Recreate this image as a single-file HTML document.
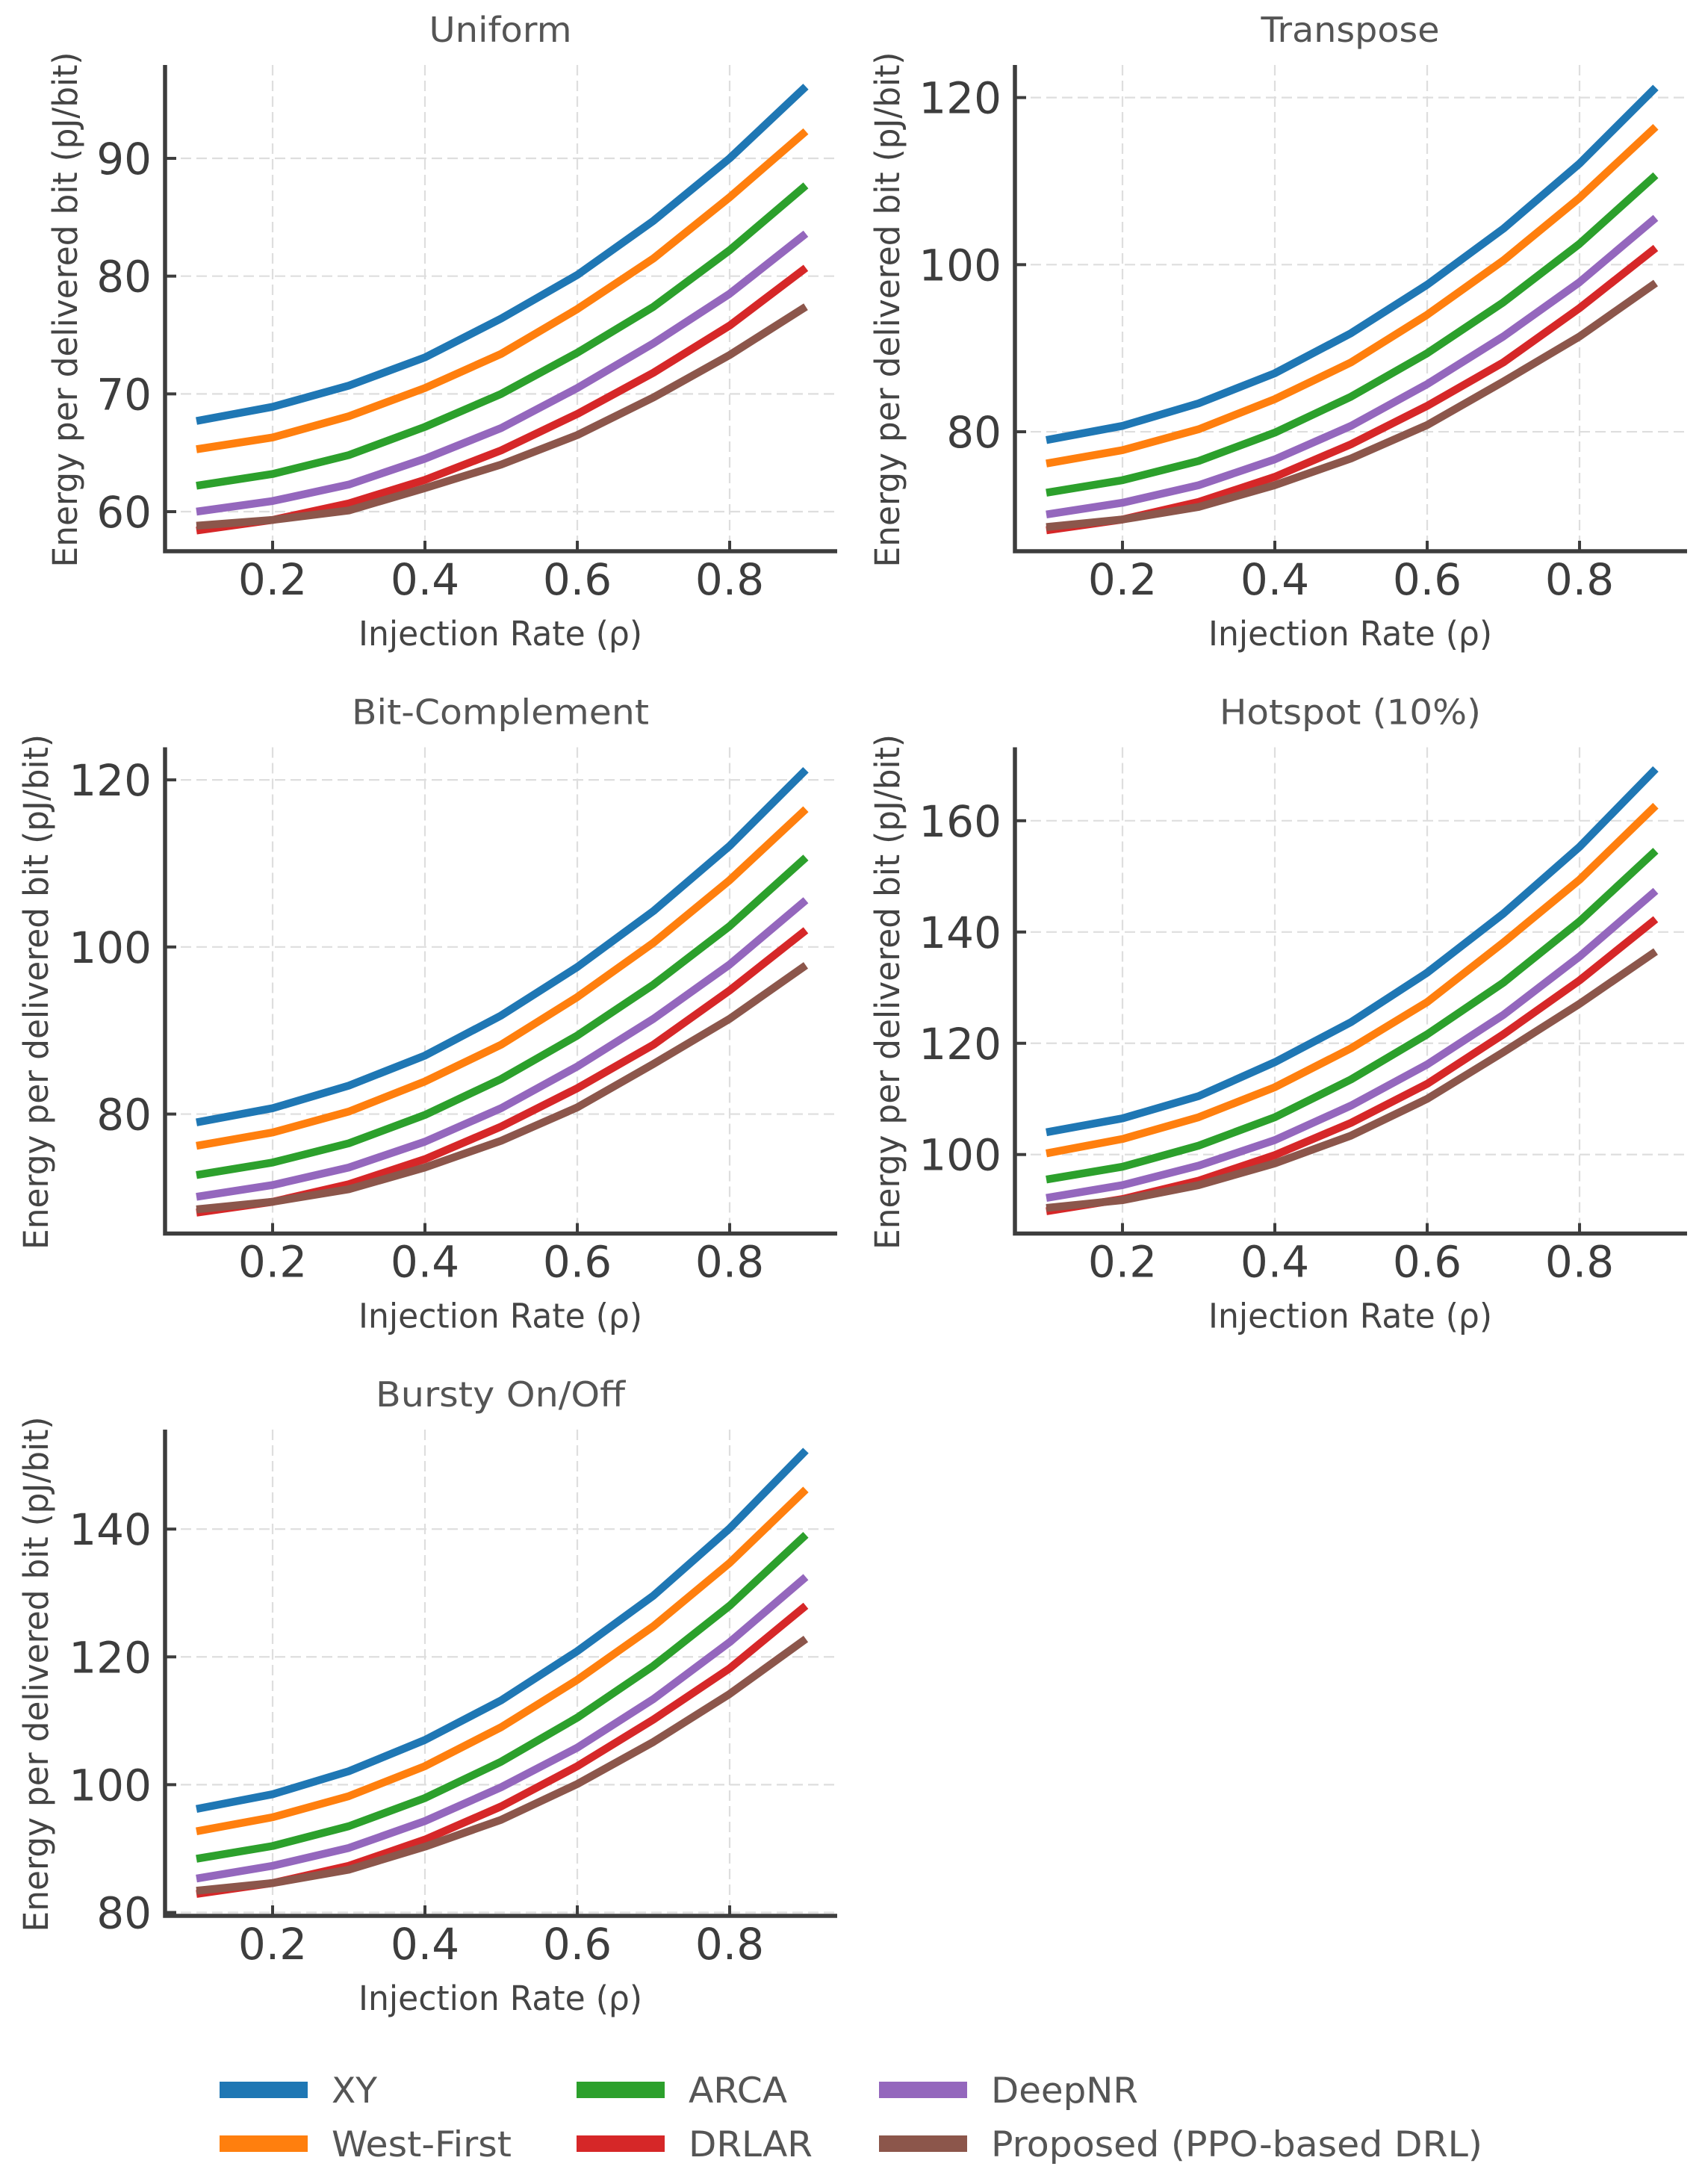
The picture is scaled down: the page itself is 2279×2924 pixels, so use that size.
<!DOCTYPE html>
<html><head><meta charset="utf-8"><style>
html,body{margin:0;padding:0;background:#fff;}
svg{display:block;}
text{font-family:"DejaVu Sans","Liberation Sans",sans-serif;}
</style></head><body>
<svg id="fig" xmlns="http://www.w3.org/2000/svg" width="2279" height="2924" viewBox="0 0 2279 2924"></svg>
<script>
const xValues = [0.1,0.2,0.3,0.4,0.5,0.6,0.7,0.8,0.9];
const seriesNames = ["XY","West-First","ARCA","DRLAR","DeepNR","Proposed (PPO-based DRL)"];
const seriesColors = ["#1f77b4","#ff7f0e","#2ca02c","#d62728","#9467bd","#8c564b"];
const xTickLabels = ["0.2","0.4","0.6","0.8"];
const xTickValues = [0.2,0.4,0.6,0.8];

const uniformXY = [67.7,68.9,70.7,73.1,76.4,80.1,84.7,90.0,96.1];
const uniformWF = [65.3,66.3,68.1,70.5,73.4,77.2,81.5,86.7,92.3];
const uniformARCA = [62.2,63.2,64.8,67.2,70.0,73.5,77.4,82.2,87.7];
const uniformDRLAR = [58.4,59.3,60.7,62.7,65.2,68.3,71.8,75.8,80.7];
const uniformDeepNR = [60.0,60.9,62.3,64.5,67.1,70.5,74.3,78.5,83.6];
const uniformProposed = [58.8,59.3,60.1,62.0,64.0,66.5,69.7,73.3,77.4];

const transposeXY = [79.0,80.7,83.4,87.0,91.8,97.6,104.3,112.1,121.2];
const transposeWF = [76.2,77.8,80.3,83.9,88.3,94.0,100.5,108.0,116.5];
const transposeARCA = [72.7,74.2,76.5,79.9,84.2,89.4,95.5,102.5,110.7];
const transposeDRLAR = [68.2,69.5,71.6,74.6,78.5,83.1,88.3,94.8,102.0];
const transposeDeepNR = [70.1,71.5,73.6,76.7,80.7,85.7,91.4,97.9,105.6];
const transposeProposed = [68.6,69.5,71.0,73.6,76.8,80.8,86.0,91.4,97.8];

const bitcompXY = [79.0,80.7,83.4,87.0,91.8,97.6,104.3,112.1,121.2];
const bitcompWF = [76.2,77.8,80.3,83.9,88.3,94.0,100.5,108.0,116.5];
const bitcompARCA = [72.7,74.2,76.5,79.9,84.2,89.4,95.5,102.5,110.7];
const bitcompDRLAR = [68.2,69.5,71.6,74.6,78.5,83.1,88.3,94.8,102.0];
const bitcompDeepNR = [70.1,71.5,73.6,76.7,80.7,85.7,91.4,97.9,105.6];
const bitcompProposed = [68.6,69.5,71.0,73.6,76.8,80.8,86.0,91.4,97.8];

const hotspotXY = [104.0,106.5,110.5,116.6,123.8,132.7,143.3,155.3,169.3];
const hotspotWF = [100.2,102.8,106.7,112.1,119.1,127.4,138.1,149.4,162.7];
const hotspotARCA = [95.5,97.8,101.6,106.7,113.5,121.6,130.9,141.9,154.6];
const hotspotDRLAR = [89.8,92.0,95.3,99.9,105.7,112.7,121.6,131.3,142.3];
const hotspotDeepNR = [92.2,94.5,98.0,102.6,108.8,116.2,125.1,135.6,147.4];
const hotspotProposed = [90.4,91.8,94.5,98.4,103.4,110.0,118.4,127.1,136.5];

const burstyXY = [96.2,98.5,102.1,107.0,113.2,120.9,129.6,140.1,152.3];
const burstyWF = [92.7,94.9,98.2,102.9,109.0,116.4,124.8,134.7,146.2];
const burstyARCA = [88.4,90.4,93.5,97.9,103.6,110.5,118.6,128.0,139.1];
const burstyDRLAR = [82.9,84.6,87.3,91.4,96.6,102.9,110.2,118.2,128.0];
const burstyDeepNR = [85.3,87.3,90.1,94.3,99.6,105.8,113.4,122.3,132.5];
const burstyProposed = [83.4,84.6,86.7,90.3,94.5,100.1,106.7,114.2,122.8];

const uniformTicks = [60,70,80,90];
const transposeTicks = [80,100,120];
const bitcompTicks = [80,100,120];
const hotspotTicks = [100,120,140,160];
const burstyTicks = [80,100,120,140];

const NS="http://www.w3.org/2000/svg";
const svg=document.getElementById('fig');
function mk(tag,attrs,parent){const e=document.createElementNS(NS,tag);for(const k in attrs)e.setAttribute(k,attrs[k]);(parent||svg).appendChild(e);return e;}

const panels=[
 {key:"uniform",title:"Uniform",titleW:191,col:0,row:0,ylim:[56.64,97.93],ticks:uniformTicks,series:[uniformXY,uniformWF,uniformARCA,uniformDRLAR,uniformDeepNR,uniformProposed]},
 {key:"transpose",title:"Transpose",titleW:239,col:1,row:0,ylim:[65.7,123.9],ticks:transposeTicks,series:[transposeXY,transposeWF,transposeARCA,transposeDRLAR,transposeDeepNR,transposeProposed]},
 {key:"bit-complement",title:"Bit-Complement",titleW:398,col:0,row:1,ylim:[65.7,123.9],ticks:bitcompTicks,series:[bitcompXY,bitcompWF,bitcompARCA,bitcompDRLAR,bitcompDeepNR,bitcompProposed]},
 {key:"hotspot",title:"Hotspot (10%)",titleW:350,col:1,row:1,ylim:[85.8,173.2],ticks:hotspotTicks,series:[hotspotXY,hotspotWF,hotspotARCA,hotspotDRLAR,hotspotDeepNR,hotspotProposed]},
 {key:"bursty",title:"Bursty On/Off",titleW:334,col:0,row:2,ylim:[79.47,155.57],ticks:burstyTicks,series:[burstyXY,burstyWF,burstyARCA,burstyDRLAR,burstyDeepNR,burstyProposed]}
];
const colLeft=[221,1359], rowTop=[87,1000.5,1914], axH=651, axW=900, xMin=0.0588, xPx=1020;
const drawOrder=[0,1,2,4,3,5];

panels.forEach(p=>{
  const L=colLeft[p.col], T=rowTop[p.row], B=T+axH, R=L+axW;
  const g=mk('g',{});
  
  
  const X=v=>L+(v-xMin)*xPx;
  const Y=v=>B-(v-p.ylim[0])/(p.ylim[1]-p.ylim[0])*axH;
  xTickValues.forEach((v,i)=>{
    const l=mk('line',{x1:X(v),x2:X(v),y1:T,y2:B,stroke:"#dedede","stroke-width":2.2,"stroke-dasharray":"14,7"},g);
    
    
  });
  p.ticks.forEach(v=>{
    const l=mk('line',{x1:L,x2:R,y1:Y(v),y2:Y(v),stroke:"#dedede","stroke-width":2.2,"stroke-dasharray":"14,7"},g);
    
    
  });
  drawOrder.forEach(si=>{
    const d=p.series[si].map((v,i)=>(i?'L':'M')+X(xValues[i]).toFixed(1)+','+Y(v).toFixed(1)).join('');
    const path=mk('path',{d:d,fill:"none",stroke:seriesColors[si],"stroke-width":10.5,"stroke-linejoin":"round","stroke-linecap":"butt"},g);
    
    
  });
  const sp=mk('path',{d:`M${L},${T}L${L},${B}L${R},${B}`,fill:"none",stroke:"#3d3d3d","stroke-width":5.5,"stroke-linejoin":"miter"},g);
  
  
  xTickValues.forEach((v,i)=>{
    mk('line',{x1:X(v),x2:X(v),y1:B,y2:B-14,stroke:"#3d3d3d","stroke-width":4},g);
    const t=mk('text',{x:X(v),y:B+58,"text-anchor":"middle","font-size":58,fill:"#3d3d3d"},g);
    t.textContent=xTickLabels[i];
    
    
  });
  p.ticks.forEach(v=>{
    mk('line',{x1:L,x2:L+15,y1:Y(v),y2:Y(v),stroke:"#3d3d3d","stroke-width":4},g);
    const t=mk('text',{x:L-18,y:Y(v)+21,"text-anchor":"end","font-size":58,fill:"#3d3d3d"},g);
    t.textContent=String(v);
    
    
  });
  const cx=(L+R)/2-1;
  const tt=mk('text',{x:cx,y:T-31,"text-anchor":"middle","font-size":46,fill:"#555",textLength:p.titleW,lengthAdjust:"spacingAndGlyphs"},g);
  tt.textContent=p.title;
  
  
  const xl=mk('text',{x:cx,y:B+126,"text-anchor":"middle","font-size":45,fill:"#444",textLength:380,lengthAdjust:"spacingAndGlyphs"},g);
  xl.textContent="Injection Rate (\u03C1)";
  
  
  const wide=p.ticks.some(v=>v>=100);
  const yx=(p.col?1140:0)+(wide?49:88)+15;
  const yc=(T+B)/2+2;
  const yl=mk('text',{x:yx,y:yc,"text-anchor":"middle","font-size":45,fill:"#444",textLength:690,lengthAdjust:"spacingAndGlyphs",transform:`rotate(-90 ${yx} ${yc})`},g);
  yl.textContent="Energy per delivered bit (pJ/bit)";
  
  
});

const legendCols=[294,772,1177], legendRows=[2798,2870];
const legendOrder=[[0,2,4],[1,3,5]];
const legendW={"XY":61,"West-First":241,"ARCA":132,"DRLAR":166,"DeepNR":197,"Proposed (PPO-based DRL)":658};
const lg=mk('g',{});


legendOrder.forEach((row,ri)=>row.forEach((si,ci)=>{
  const e=mk('g',{},lg);
  
  
  mk('rect',{x:legendCols[ci],y:legendRows[ri]-11,width:118,height:22,fill:seriesColors[si]},e);
  const t=mk('text',{x:legendCols[ci]+150,y:legendRows[ri]+17,"font-size":47,fill:"#555",textLength:legendW[seriesNames[si]],lengthAdjust:"spacingAndGlyphs"},e);
  t.textContent=seriesNames[si];
}));
</script>
</body></html>
